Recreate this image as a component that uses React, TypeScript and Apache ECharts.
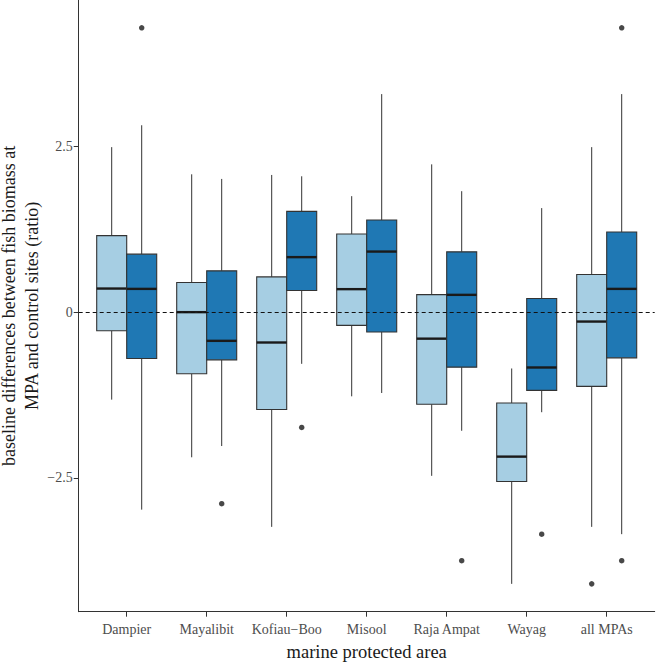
import React, { useEffect, useRef } from "react";
import * as echarts from "echarts";

const categories = ["Dampier", "Mayalibit", "Kofiau\u2212Boo", "Misool", "Raja Ampat", "Wayag", "all MPAs"];

// [lowerWhisker, Q1, median, Q3, upperWhisker]
const beforeStats = [
  [-1.32, -0.28, 0.356, 1.155, 2.49],
  [-2.19, -0.93, 0.0, 0.447, 2.08],
  [-3.24, -1.47, -0.458, 0.532, 2.07],
  [-1.27, -0.2, 0.347, 1.18, 1.75],
  [-2.47, -1.39, -0.4, 0.265, 2.23],
  [-4.1, -2.555, -2.18, -1.37, -0.85],
  [-3.24, -1.12, -0.142, 0.567, 2.49],
];
const afterStats = [
  [-2.98, -0.7, 0.351, 0.875, 2.82],
  [-2.02, -0.72, -0.433, 0.623, 2.01],
  [-0.78, 0.326, 0.83, 1.52, 2.05],
  [-1.22, -0.3, 0.914, 1.39, 3.29],
  [-1.79, -0.83, 0.261, 0.91, 1.825],
  [-1.51, -1.18, -0.835, 0.205, 1.57],
  [-3.35, -0.69, 0.351, 1.21, 3.29],
];
// [categoryIndex, value]
const beforeOutliers = [[6, -4.1]];
const afterOutliers = [
  [0, 4.29],
  [1, -2.89],
  [2, -1.74],
  [4, -3.75],
  [5, -3.35],
  [6, 4.29],
  [6, -3.75],
];
const yTicks = [-2.5, 0, 2.5];

const LIGHT = "#a6cee3";
const DARK = "#1f78b4";
const BOX_W = 0.375;
const FONT = "'Liberation Serif', 'DejaVu Serif', serif";

function boxSeries(stats: number[][], offset: number, fill: string) {
  return {
    type: "custom",
    data: stats.map((s, i) => [i + offset, ...s]),
    encode: { x: 0, y: [1, 2, 3, 4, 5] },
    renderItem: (params: any, api: any) => {
      const x = api.value(0);
      const lo = api.coord([x, api.value(1)]);
      const q1 = api.coord([x, api.value(2)]);
      const med = api.coord([x, api.value(3)]);
      const q3 = api.coord([x, api.value(4)]);
      const hi = api.coord([x, api.value(5)]);
      const w = api.size([BOX_W, 0])[0];
      const cx = med[0];
      return {
        type: "group",
        children: [
          { type: "line", shape: { x1: cx, y1: hi[1], x2: cx, y2: q3[1] }, style: { stroke: "#333", lineWidth: 1 } },
          { type: "line", shape: { x1: cx, y1: q1[1], x2: cx, y2: lo[1] }, style: { stroke: "#333", lineWidth: 1 } },
          {
            type: "rect",
            shape: { x: cx - w / 2, y: q3[1], width: w, height: q1[1] - q3[1] },
            style: { fill, stroke: "#333", lineWidth: 1.1 },
          },
          {
            type: "line",
            shape: { x1: cx - w / 2, y1: med[1], x2: cx + w / 2, y2: med[1] },
            style: { stroke: "#1a1a1a", lineWidth: 2.4 },
          },
        ],
      };
    },
    z: 3,
  };
}

export default function App() {
  const ref = useRef<HTMLDivElement>(null);
  useEffect(() => {
    if (!ref.current) return;
    const chart = echarts.init(ref.current, undefined, { renderer: "svg" });
    const outlierData = [
      ...beforeOutliers.map((o) => [o[0] - BOX_W / 2, o[1]]),
      ...afterOutliers.map((o) => [o[0] + BOX_W / 2, o[1]]),
    ];
    chart.setOption({
      animation: false,
      backgroundColor: "#ffffff",
      textStyle: { fontFamily: FONT },
      grid: { left: 78.7, top: 0, right: 1.3, bottom: 50.3, containLabel: false, outerBoundsMode: "none" },
      xAxis: {
        type: "value",
        min: -0.6,
        max: 6.6,
        name: "marine protected area",
        nameLocation: "middle",
        nameGap: 31,
        nameMoveOverlap: false,
        nameTextStyle: { fontFamily: FONT, fontSize: 18.5, color: "#1a1a1a" },
        axisLine: { show: true, onZero: false, lineStyle: { color: "#333", width: 1 } },
        axisTick: { show: true, length: 5, customValues: categories.map((_, i) => i), lineStyle: { color: "#333" } },
        axisLabel: {
          customValues: categories.map((_, i) => i),
          formatter: (v: number) => categories[Math.round(v)] ?? "",
          fontFamily: FONT,
          fontSize: 14,
          color: "#4d4d4d",
          margin: 11,
        },
        splitLine: { show: false },
      },
      yAxis: {
        type: "value",
        min: -4.52,
        max: 4.71,
        name: "baseline differences between fish biomass at\nMPA and control sites (ratio)",
        nameLocation: "middle",
        nameRotate: 90,
        nameGap: 35,
        nameMoveOverlap: false,
        nameTextStyle: { fontFamily: FONT, fontSize: 18, color: "#1a1a1a", lineHeight: 23 },
        axisLine: { show: true, onZero: false, lineStyle: { color: "#333", width: 1 } },
        axisTick: { show: true, length: 5, customValues: yTicks, lineStyle: { color: "#333" } },
        axisLabel: {
          customValues: yTicks,
          formatter: (v: number) => (v < 0 ? "\u2212" + Math.abs(v) : String(v)),
          fontFamily: FONT,
          fontSize: 14,
          color: "#4d4d4d",
          margin: 6,
        },
        splitLine: { show: false },
      },
      series: [
        boxSeries(beforeStats, -BOX_W / 2, LIGHT),
        boxSeries(afterStats, BOX_W / 2, DARK),
        {
          type: "scatter",
          data: outlierData,
          symbol: "circle",
          symbolSize: 5.5,
          itemStyle: { color: "#1a1a1a" },
          z: 4,
          markLine: {
            silent: true,
            symbol: "none",
            label: { show: false },
            lineStyle: { color: "#111", width: 1, type: [4, 3] },
            data: [{ yAxis: 0 }],
            z: 5,
          },
        },
      ],
    });
    return () => chart.dispose();
  }, []);
  return <div ref={ref} style={{ position: "absolute", left: 0, top: 0, width: 656, height: 662 }} />;
}
